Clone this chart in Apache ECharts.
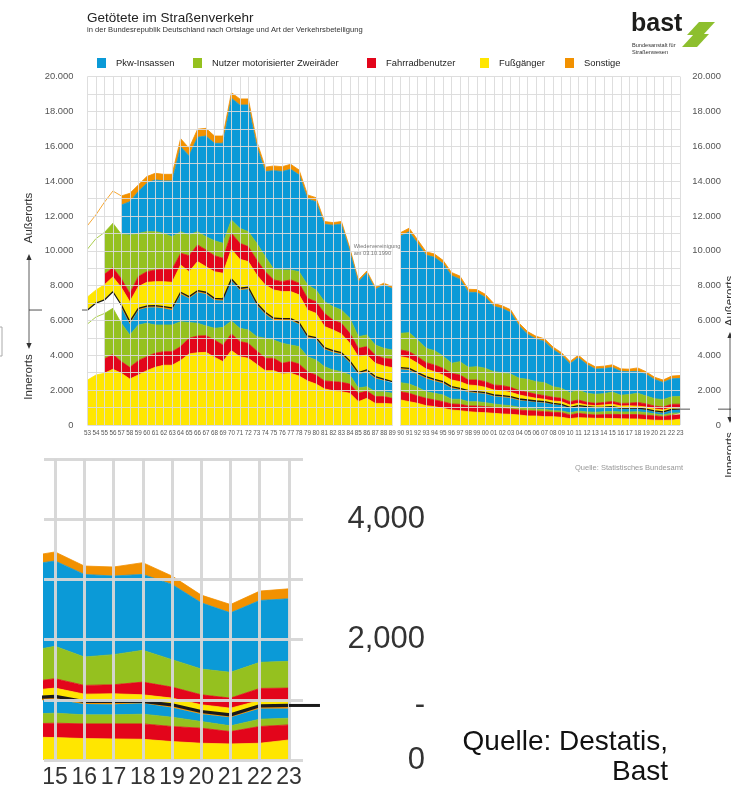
<!DOCTYPE html>
<html lang="de">
<head>
<meta charset="utf-8">
<title>Getötete im Straßenverkehr</title>
<script src="https://cdn.jsdelivr.net/npm/echarts@6.0.0/dist/echarts.min.js"></script>
<style>
  html, body { margin: 0; padding: 0; background: #fff; }
  #main { width: 731px; height: 797px; }
</style>
</head>
<body>
<div id="main"></div>
<script>
// Jahre: bis 1989 früheres Bundesgebiet, ab 1990 Deutschland
const years = [1953, 1954, 1955, 1956, 1957, 1958, 1959, 1960, 1961, 1962, 1963, 1964, 1965, 1966, 1967,
  1968, 1969, 1970, 1971, 1972, 1973, 1974, 1975, 1976, 1977, 1978, 1979, 1980, 1981, 1982, 1983, 1984,
  1985, 1986, 1987, 1988, 1989, 1990, 1991, 1992, 1993, 1994, 1995, 1996, 1997, 1998, 1999, 2000, 2001,
  2002, 2003, 2004, 2005, 2006, 2007, 2008, 2009, 2010, 2011, 2012, 2013, 2014, 2015, 2016, 2017, 2018,
  2019, 2020, 2021, 2022, 2023];
const insetYears = [2015, 2016, 2017, 2018, 2019, 2020, 2021, 2022, 2023];
const reunificationYear = 1990;

// Innerorts. Vor 1955 sind Rad + Zweirad zusammen in innerZwei, vor 1957 Pkw + Sonstige in innerSonst
const innerFuss = [2580, 2870, 2970, 3200, 2970, 2640, 2870, 3120, 3310, 3430, 3430, 3700, 4080, 4150, 4170,
  3890, 3640, 4270, 3920, 3830, 3480, 3120, 3120, 2930, 2970, 2810, 2530, 2350, 2070, 1970, 1910, 1820,
  1340, 1530, 1240, 1240, 1210,
  1435, 1340, 1244, 1110, 1053, 957, 861, 823, 766, 727, 708, 670, 632, 612, 574, 517, 517, 478, 478, 440,
  364, 421, 402, 383, 383, 372, 356, 350, 344, 306, 278, 267, 278, 333];
const innerRad = [null, null, 830, 850, 670, 670, 820, 800, 810, 780, 780, 800, 900, 960, 960,
  990, 950, 960, 870, 860, 770, 710, 710, 610, 670, 690, 530, 520, 460, 520, 540, 530,
  480, 420, 390, 390, 320,
  479, 478, 421, 421, 383, 383, 345, 364, 325, 364, 345, 344, 325, 307, 287, 306, 287, 288, 249, 268,
  210, 249, 210, 191, 217, 239, 244, 250, 256, 250, 250, 205, 278, 250];
const innerZwei = [3220, 3330, 2600, 2650, 2200, 1860, 2050, 1920, 1620, 1530, 1530, 1430, 900, 730, 560,
  670, 1010, 740, 760, 770, 820, 1150, 1050, 1150, 950, 1000, 860, 860, 820, 670, 610, 520,
  300, 250, 280, 280, 290,
  517, 536, 498, 383, 382, 383, 274, 287, 249, 249, 229, 192, 191, 191, 153, 134, 115, 134, 96, 96,
  126, 130, 138, 156, 160, 167, 150, 150, 161, 155, 111, 95, 122, 111];
const innerPkw = [null, null, null, null, 900, 635, 860, 900, 1020, 960, 860, 1590, 1390, 1780, 1830,
  1630, 1540, 2320, 2200, 2350, 1820, 1390, 1150, 1320, 1420, 1280, 1100, 1190, 1000, 1010, 1000, 710,
  790, 860, 770, 640, 570,
  771, 810, 752, 771, 714, 675, 641, 551, 551, 494, 505, 447, 466, 447, 409, 419, 399, 380, 361, 323,
  264, 260, 253, 234, 220, 228, 182, 177, 181, 161, 127, 143, 177, 162];
const innerSonst = [800, 800, 780, 950, 150, 130, 100, 90, 90, 100, 120, 100, 100, 90, 100,
  90, 100, 90, 100, 100, 100, 100, 100, 100, 100, 100, 90, 100, 90, 100, 90, 100,
  100, 100, 100, 90, 100,
  90, 90, 90, 90, 90, 90, 80, 80, 80, 80, 70, 70, 70, 70, 70, 60, 60, 60, 60, 60,
  50, 50, 50, 50, 50, 50, 40, 45, 30, 45, 40, 40, 45, 50];

// Außerorts, gleiche Regeln
const outerFuss = [750, 750, 870, 850, 1000, 1147, 1240, 1360, 1380, 1430, 1470, 1570, 1430, 1670, 1470,
  1530, 1470, 1710, 1660, 1470, 1620, 1570, 1620, 1550, 1550, 1590, 1490, 1390, 1210, 1190, 1080, 1010,
  910, 860, 760, 750, 800,
  632, 574, 536, 441, 440, 383, 383, 383, 326, 345, 306, 287, 268, 249, 230, 191, 153, 134, 134, 153,
  134, 134, 95, 96, 120, 138, 122, 128, 111, 111, 111, 111, 89, 83];
const outerRad = [null, null, 600, 530, 500, 478, 580, 610, 670, 710, 750, 670, 920, 960, 960,
  920, 860, 920, 920, 860, 860, 760, 580, 570, 670, 670, 670, 670, 760, 570, 610, 570,
  480, 480, 480, 440, 480,
  383, 383, 383, 363, 383, 383, 383, 383, 287, 325, 325, 287, 307, 287, 248, 249, 230, 210, 211, 191,
  192, 192, 154, 134, 140, 156, 145, 150, 211, 183, 166, 167, 200, 205];
const outerZwei = [2750, 2950, 2400, 2550, 2560, 3350, 2480, 2300, 2200, 2060, 1870, 1240, 1190, 760, 760,
  860, 860, 760, 860, 860, 960, 870, 610, 670, 570, 660, 770, 670, 670, 770, 760, 870,
  670, 670, 570, 570, 540,
  957, 1091, 957, 823, 823, 708, 574, 766, 727, 766, 766, 765, 746, 765, 709, 746, 727, 747, 612, 574,
  517, 574, 516, 517, 510, 539, 472, 500, 528, 456, 428, 428, 433, 445];
const outerPkw = [null, null, null, null, 1680, 1910, 2400, 2780, 2970, 3010, 3200, 4880, 4540, 5420, 5780,
  5590, 5740, 6990, 7080, 7270, 5550, 4880, 5660, 5650, 5780, 5560, 4940, 5070, 4440, 4670, 4940, 3880,
  3140, 3560, 3200, 3640, 3520,
  5582, 5788, 5550, 5357, 5356, 5302, 5037, 4732, 4311, 4252, 4079, 3755, 3677, 3525, 3012, 2589, 2453,
  2368, 2136, 1907, 1661, 1859, 1652, 1448, 1437, 1417, 1371, 1306, 1261, 1249, 1100, 988, 1028, 1039];
const outerSonst = [1350, 1370, 1740, 1850, 520, 480, 380, 380, 380, 380, 380, 460, 440, 460, 440,
  420, 420, 320, 350, 350, 290, 250, 270, 280, 290, 280, 230, 230, 160, 150, 140, 130,
  120, 110, 120, 100, 120,
  200, 210, 200, 190, 190, 190, 180, 180, 170, 170, 170, 160, 160, 160, 150, 150, 150, 150, 140, 140,
  130, 140, 130, 130, 140, 150, 140, 150, 195, 140, 128, 139, 156, 166];

const FONT = 'Liberation Sans, Arial, sans-serif';
const colorOf = {
  'Pkw-Insassen': '#0b9ad7',
  'Nutzer motorisierter Zweiräder': '#95c11f',
  'Fahrradbenutzer': '#e3051b',
  'Fußgänger': '#ffe600',
  'Sonstige': '#f29100'
};
const legendOrder = ['Pkw-Insassen', 'Nutzer motorisierter Zweiräder', 'Fahrradbenutzer', 'Fußgänger', 'Sonstige'];
const legendX = [97, 193, 367, 480, 565];

const innerLayers = [
  { name: 'Fußgänger', data: innerFuss },
  { name: 'Fahrradbenutzer', data: innerRad },
  { name: 'Nutzer motorisierter Zweiräder', data: innerZwei },
  { name: 'Pkw-Insassen', data: innerPkw },
  { name: 'Sonstige', data: innerSonst }
];
const outerLayers = [
  { name: 'Fußgänger', data: outerFuss },
  { name: 'Fahrradbenutzer', data: outerRad },
  { name: 'Nutzer motorisierter Zweiräder', data: outerZwei },
  { name: 'Pkw-Insassen', data: outerPkw },
  { name: 'Sonstige', data: outerSonst }
];
const layers = innerLayers.concat(outerLayers);

const innerTotal = years.map((y, i) => innerLayers.reduce((s, l) => s + (l.data[i] || 0), 0));
const total = years.map((y, i) => layers.reduce((s, l) => s + (l.data[i] || 0), 0));
// erste Jahre mit voller Aufteilung
const firstRad = years.find((y, i) => innerRad[i] != null);
const firstPkw = years.find((y, i) => innerPkw[i] != null);

const westYears = years.filter(y => y < reunificationYear);
const unifiedYears = years.filter(y => y >= reunificationYear);

const dot = v => String(v).replace(/\B(?=(\d{3})+(?!\d))/g, '.');
const comma = v => String(v).replace(/\B(?=(\d{3})+(?!\d))/g, ',');
const twoDigits = v => String(v % 100).padStart(2, '0');

const series = [];
const fadeZwei = [], fadeSonst = [];

// Wert zuerst, Jahr danach: so stapelt ECharts auf der y-Achse
function addBlock(yrs, stack, xi, yi, dividerWidth, early) {
  layers.forEach((l, k) => {
    const c = colorOf[l.name];
    const divider = k === innerLayers.length - 1;
    const fades = early && (l.name === 'Nutzer motorisierter Zweiräder' || l.name === 'Sonstige');
    if (fades) (l.name === 'Sonstige' ? fadeSonst : fadeZwei).push(series.length);
    series.push({
      type: 'line',
      name: l.name,
      stack: stack,
      xAxisIndex: xi,
      yAxisIndex: yi,
      encode: { x: 1, y: 0 },
      data: yrs.map(y => [l.data[years.indexOf(y)], y]),
      symbol: 'none',
      silent: true,
      z: divider ? 3 : 2,
      lineStyle: divider ? { color: '#1a1a1a', width: dividerWidth } : { color: c, width: 0.8 },
      areaStyle: fades ? { opacity: 1 } : { color: c, opacity: 1 },
      emphasis: { disabled: true }
    });
  });
}
addBlock(westYears, 'west', 0, 0, 1.3, true);
addBlock(unifiedYears, 'unified', 0, 0, 1.3, false);
addBlock(unifiedYears, 'inset', 1, 2, 3.2, false);

const gridLine = { color: 'rgba(218,218,218,0.9)', width: 1 };
const insetLine = { color: 'rgba(214,214,214,0.95)', width: 3 };
const clear = 'rgba(255,255,255,0)';

const option = {
  animation: false,
  backgroundColor: '#fff',
  textStyle: { fontFamily: FONT },
  grid: [
    { left: 87.5, right: 51, top: 76.6, bottom: 372, outerBoundsMode: 'none' },
    { left: 44, right: 428, top: 459, bottom: 37, outerBoundsMode: 'none' }
  ],
  xAxis: [
    {
      type: 'value', gridIndex: 0, min: years[0], max: years[years.length - 1], interval: 1, z: 5,
      axisLine: { show: false }, axisTick: { show: false },
      splitLine: { show: true, lineStyle: gridLine },
      axisLabel: { fontSize: 6.3, color: '#555', margin: 5, formatter: twoDigits }
    },
    {
      type: 'value', gridIndex: 1, min: insetYears[0] - 0.38, max: insetYears[insetYears.length - 1] + 0.48, z: 5,
      axisLine: { show: false },
      axisTick: { show: false, customValues: insetYears },
      splitLine: { show: true, lineStyle: insetLine },
      axisLabel: { customValues: insetYears, fontSize: 23, color: '#333', margin: 6, formatter: twoDigits }
    }
  ],
  yAxis: [
    {
      type: 'value', gridIndex: 0, position: 'left', min: 0, max: 20000, interval: 1000, z: 5,
      axisLine: { show: false }, axisTick: { show: false },
      splitLine: { show: true, lineStyle: gridLine },
      axisLabel: { fontSize: 9.4, color: '#555', margin: 14, formatter: v => (v % 2000 === 0 ? dot(v) : '') }
    },
    {
      type: 'value', gridIndex: 0, position: 'right', min: 0, max: 20000, interval: 1000, z: 5,
      axisLine: { show: false }, axisTick: { show: false }, splitLine: { show: false },
      axisLabel: { fontSize: 9.4, color: '#555', margin: 41, align: 'right', formatter: v => (v % 2000 === 0 ? dot(v) : '') }
    },
    {
      type: 'value', gridIndex: 1, position: 'right', min: 0, max: 5000, interval: 1000, z: 5,
      axisLine: { show: false }, axisTick: { show: false },
      splitLine: { show: true, lineStyle: insetLine },
      axisLabel: { fontSize: 31, color: '#333', margin: 122, align: 'right', formatter: v => (v % 2000 === 0 ? comma(v) : '') }
    }
  ],
  legend: legendOrder.map((n, i) => ({
    left: legendX[i], top: 58, padding: 0, itemWidth: 9, itemHeight: 10, icon: 'rect', selectedMode: false,
    data: [{ name: n, itemStyle: { color: colorOf[n], borderWidth: 0 } }],
    textStyle: { fontSize: 9.4, color: '#222', padding: [0, 0, 0, 5] }
  })),
  visualMap: [
    {
      type: 'piecewise', show: false, dimension: 1, seriesIndex: fadeZwei,
      pieces: [
        { gte: 1900, lt: firstRad, color: clear },
        { gte: firstRad, lte: 2100, color: colorOf['Nutzer motorisierter Zweiräder'] }
      ]
    },
    {
      type: 'piecewise', show: false, dimension: 1, seriesIndex: fadeSonst,
      pieces: [
        { gte: 1900, lt: firstPkw, color: clear },
        { gte: firstPkw, lte: 2100, color: colorOf['Sonstige'] }
      ]
    }
  ],
  series: series
};

const chart = echarts.init(document.getElementById('main'));
chart.setOption(option);

// Beschriftungen und Markierungen, Lage aus den Achsen
const pm = v => chart.convertToPixel({ xAxisIndex: 0, yAxisIndex: 0 }, v);
const pi = v => chart.convertToPixel({ xAxisIndex: 1, yAxisIndex: 2 }, v);
const last = years.length - 1;
const iU = years.indexOf(reunificationYear);
const leftDiv = pm([years[0], innerTotal[0]]);
const rightDiv = pm([years[last], innerTotal[last]]);
const gapL = pm([years[iU - 1], 0]);
const gapR = pm([years[iU], total[iU]]);
const insetDiv = pi([years[last], innerTotal[last]]);

function txt(x, y, text, size, fill, align, extra) {
  const el = {
    type: 'text', x: x, y: y, z: 120, silent: true,
    style: {
      text: text, fontSize: size, fill: fill, fontFamily: FONT,
      align: align || 'left', verticalAlign: 'middle',
      textAlign: align || 'left', textVerticalAlign: 'middle'
    }
  };
  if (extra) {
    Object.assign(el.style, extra.style || {});
    if (extra.rotation) el.rotation = extra.rotation;
  }
  return el;
}
function seg(x1, y1, x2, y2, stroke, w) {
  return { type: 'line', z: 110, silent: true, shape: { x1, y1, x2, y2 }, style: { stroke, lineWidth: w } };
}
function head(x, tip, dir) {
  return {
    type: 'polygon', z: 110, silent: true,
    shape: { points: [[x, tip], [x - 2.6, tip + 6 * dir], [x + 2.6, tip + 6 * dir]] },
    style: { fill: '#333' }
  };
}
const up = Math.PI / 2;

const g = [
  txt(87, 18, 'Getötete im Straßenverkehr', 13.5, '#222'),
  txt(87, 30, 'in der Bundesrepublik Deutschland nach Ortslage und Art der Verkehrsbeteiligung', 7.6, '#333'),
  // Logo
  txt(631, 24.5, 'bast', 25, '#1d1d1b', 'left', { style: { fontWeight: 'bold' } }),
  txt(632, 45, 'Bundesanstalt für', 5.6, '#333'),
  txt(632, 52, 'Straßenwesen', 5.6, '#333'),
  { type: 'polygon', z: 110, silent: true, shape: { points: [[699, 22], [715, 22], [703, 35], [687, 35]] }, style: { fill: '#8dbf2e' } },
  { type: 'polygon', z: 110, silent: true, shape: { points: [[694, 34], [709, 34], [697, 47], [682, 47]] }, style: { fill: '#8dbf2e' } },

  // links: Innerorts / Außerorts
  seg(29, leftDiv[1], 42, leftDiv[1], '#8c8c8c', 1.5),
  seg(82, leftDiv[1], leftDiv[0], leftDiv[1], '#8c8c8c', 1.5),
  seg(29, 258, 29, 345, '#333', 0.8),
  head(29, 254, 1),
  head(29, 349, -1),
  txt(29, 218, 'Außerorts', 11.5, '#333', 'center', { rotation: up }),
  txt(29, 377, 'Innerorts', 11.5, '#333', 'center', { rotation: up }),
  { type: 'rect', z: 110, silent: true, shape: { x: -10, y: 327, width: 12, height: 29 }, style: { fill: 'none', stroke: '#aaa', lineWidth: 1 } },

  // rechts
  seg(rightDiv[0], rightDiv[1], rightDiv[0] + 10, rightDiv[1], '#8c8c8c', 1.5),
  seg(718, rightDiv[1], 731, rightDiv[1], '#8c8c8c', 1.5),
  seg(730, 336, 730, 419, '#333', 0.8),
  head(730, 332, 1),
  head(730, 423, -1),
  txt(730, 301, 'Außerorts', 11.5, '#333', 'center', { rotation: up }),
  txt(730, 455, 'Innerorts', 11.5, '#333', 'center', { rotation: up }),

  // Lücke zur Wiedervereinigung
  { type: 'rect', z: 100, silent: true,
    shape: { x: gapL[0] + 0.6, y: gapR[1] - 2, width: gapR[0] - gapL[0] - 1.2, height: gapL[1] - gapR[1] + 3 },
    style: { fill: '#fff' } },
  { type: 'text', x: gapL[0] - 38.5, y: 243, z: 120, silent: true,
    style: { text: 'Wiedervereinigung\nam 03.10.1990', fontSize: 5.6, lineHeight: 7, fill: '#777', fontFamily: FONT,
      align: 'left', verticalAlign: 'top', textAlign: 'left', textVerticalAlign: 'top' } },
  txt(683, 468, 'Quelle: Statistisches Bundesamt', 7.5, '#999', 'right'),

  // Ausschnitt
  seg(insetDiv[0], insetDiv[1], insetDiv[0] + 31, insetDiv[1], '#1a1a1a', 3),
  txt(425, insetDiv[1], '-', 31, '#333', 'right'),
  txt(668, 742, 'Quelle: Destatis,', 28, '#111', 'right'),
  txt(668, 772, 'Bast', 28, '#111', 'right')
];
chart.setOption({ graphic: { elements: g } });
</script>
</body>
</html>
